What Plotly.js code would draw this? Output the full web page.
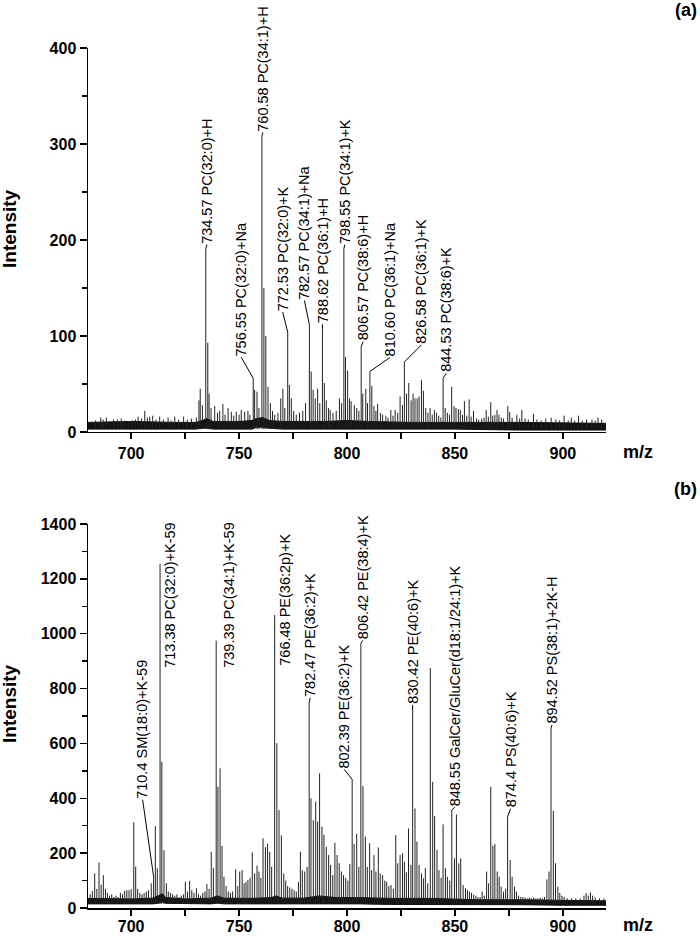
<!DOCTYPE html>
<html>
<head>
<meta charset="utf-8">
<script src="https://cdn.plot.ly/plotly-3.0.1.min.js"></script>
<style>html,body{margin:0;padding:0;background:#fff;}#chart{width:700px;height:936px;}</style>
</head>
<body>
<div id="chart"></div>
<script>
// ---------- Panel (a) peaks: m/z and intensity ----------
const mzA = [683.5,685.9,687.0,688.5,690.2,691.8,693.6,695.4,697.0,699.0,700.5,702.0,703.2,704.8,706.3,707.5,708.6,710.0,711.5,713.2,715.0,717.1,718.5,720.2,722.0,724.3,726.0,727.9,730.2,731.4,732.0,733.0,734.57,735.5,736.1,737.0,738.7,740.0,741.0,742.5,743.5,744.9,746.4,747.5,748.7,750.0,751.0,752.6,754.1,755.0,756.55,757.2,758.3,759.2,760.58,761.5,762.4,763.4,764.5,765.5,766.5,768.0,769.3,770.3,771.2,772.53,773.3,774.2,775.3,776.5,778.0,779.5,780.8,782.57,783.4,784.3,785.3,786.4,787.4,788.62,789.5,790.4,791.4,792.2,793.5,795.0,796.5,797.5,798.55,799.3,800.3,801.2,801.9,803.4,804.5,805.5,806.57,807.3,808.7,809.5,810.60,811.5,812.5,813.4,814.2,815.5,816.5,818.0,819.0,820.3,821.3,822.3,823.5,824.6,825.7,826.58,827.6,828.6,829.7,830.6,831.5,832.5,833.4,834.5,835.4,836.5,837.5,838.5,839.5,840.5,841.5,842.5,843.5,844.53,845.5,846.5,847.5,848.5,849.6,850.5,851.6,852.5,853.5,854.4,855.5,856.6,857.5,858.6,860.0,861.0,862.4,863.5,864.5,865.5,866.6,867.5,868.5,869.5,870.4,871.5,872.5,874.5,875.4,876.5,878.7,880.0,881.0,882.5,884.0,886.4,888.0,890.0,892.1,894.6,896.8,898.5,900.6,902.5,903.9,905.5,907.3,909.0,911.0,913.5,915.0,916.3,918.0];
const intA = [12,15,13,15,11,13,13,14,12,11,12,13,16,14,22,15,16,17,13,16,13,15,12,16,13,16,13,14,15,33,45,28,190,93,40,25,27,20,22,29,18,25,21,17,21,18,23,21,22,18,56,44,42,25,308,150,100,47,30,22,18,20,35,45,25,104,49,35,22,18,20,22,30,112,63,44,35,45,30,108,51,33,25,23,20,22,35,30,191,78,64,35,32,28,25,22,89,40,45,30,63,48,27,22,29,20,18,17,15,23,17,23,20,37,28,73,40,51,33,40,35,35,37,54,43,25,20,25,18,23,20,17,15,56,25,20,18,47,27,25,24,23,18,32,17,34,16,22,14,13,14,15,23,16,31,17,18,23,18,15,14,27,21,15,18,14,23,14,13,19,13,12,14,15,13,12,17,12,15,12,17,12,13,13,12,15,13];
// noise band of panel (a)
const bandA_mz = [680,700,720,730,733,735,738,750,756,758,761,764,770,780,790,800,810,830,850,880,920];
const bandA_hi = [10,11,10,10,12,14,11,11,12,14,15,12,11,11,11,12,11,10,10,10,9];
const bandA_lo = [3,3,3,3,4,4,3,3,3,5,5,4,3,3,3,3,3,3,3,2,2];
// labelled peaks of panel (a)
const labA_mz = [734.57,756.55,760.58,772.53,782.57,788.62,798.55,806.57,810.60,826.58,844.53];
const labA_text = ["734.57 PC(32:0)+H","756.55 PC(32:0)+Na","760.58 PC(34:1)+H","772.53 PC(32:0)+K","782.57 PC(34:1)+Na","788.62 PC(36:1)+H","798.55 PC(34:1)+K","806.57 PC(38:6)+H","810.60 PC(36:1)+Na","826.58 PC(36:1)+K","844.53 PC(38:6)+K"];

// ---------- Panel (b) peaks ----------
const mzB = [681.0,682.0,683.1,684.1,685.1,686.1,687.1,688.1,689.0,690.0,691.0,692.0,693.0,694.0,695.0,696.0,697.0,698.0,699.0,700.0,701.2,702.1,703.0,704.0,705.0,706.0,707.0,708.0,709.3,710.4,711.2,712.1,713.38,714.2,715.2,716.3,717.2,718.2,719.2,720.2,721.2,722.2,723.2,724.2,725.1,726.1,727.1,728.1,729.1,730.2,731.2,732.2,733.2,734.2,735.1,736.1,737.1,738.1,739.39,740.2,741.2,742.1,743.0,744.0,745.0,746.0,747.0,748.4,749.4,750.3,751.4,752.3,753.2,754.1,755.1,756.1,757.2,758.3,759.2,760.1,761.1,762.2,763.2,764.2,765.1,766.48,767.5,768.5,769.6,770.7,771.6,772.5,773.5,774.5,775.5,776.5,777.5,778.4,779.3,780.4,781.5,782.47,783.3,784.4,785.5,786.4,787.3,788.4,789.3,790.4,791.5,792.4,793.4,794.4,795.4,796.4,797.4,798.4,799.4,800.4,801.3,802.39,803.3,804.5,805.5,806.42,807.4,808.5,809.4,810.5,811.4,812.5,813.4,814.5,815.4,816.5,817.5,818.4,819.4,820.4,821.5,822.6,823.5,824.6,825.7,826.6,827.5,828.5,829.6,830.42,831.5,832.4,833.4,834.5,835.4,836.3,837.4,838.6,839.7,840.6,841.7,842.6,843.6,844.5,845.6,846.5,847.6,848.55,849.8,850.7,851.8,852.7,853.8,854.9,855.8,856.7,857.7,858.7,859.7,860.7,861.7,862.6,863.6,864.7,865.6,866.6,867.6,868.5,869.6,870.5,871.4,872.5,873.5,874.4,875.6,876.5,877.6,878.5,879.5,880.5,881.5,882.5,883.5,884.5,885.5,886.5,887.5,888.5,889.5,890.5,891.5,892.6,893.6,894.52,895.6,896.6,897.7,898.6,899.6,900.6,902.0,904.0,906.0,908.0,909.8,910.8,911.8,912.8,913.8,915.0,917.0,919.0];
const intB = [50,62,126,70,166,85,120,70,55,45,50,40,45,40,55,50,62,65,65,68,312,151,70,55,50,55,60,65,90,114,299,145,1255,533,211,90,60,55,50,45,50,40,45,50,96,60,99,65,55,72,50,45,55,60,87,70,205,145,975,442,509,226,114,80,60,55,60,141,80,133,138,90,95,102,110,203,126,154,133,110,254,222,234,205,150,1068,601,357,265,126,100,80,75,70,65,60,95,205,138,133,150,748,400,320,388,315,491,297,267,223,193,157,120,238,193,163,133,120,110,100,160,469,233,271,150,965,445,260,150,236,138,193,133,221,126,120,100,96,80,84,70,266,163,193,199,169,130,290,157,722,363,242,157,126,108,145,90,875,460,335,212,138,110,305,145,114,100,357,181,341,163,181,84,72,65,60,55,48,45,40,40,60,45,133,90,442,227,233,133,114,78,60,70,333,175,114,78,60,45,40,40,38,35,38,35,38,35,35,38,35,40,104,133,656,355,163,78,55,45,40,35,35,35,35,45,54,45,57,45,38,35,35];
// noise band of panel (b)
const bandB_mz = [680,700,710,713,714.5,716,725,737,740,743,755,765,767,770,780,787,795,806,820,840,860,880,900,920];
const bandB_hi = [35,33,36,48,52,38,33,36,44,36,35,38,44,36,36,44,38,38,35,35,30,30,28,26];
const bandB_lo = [15,15,15,18,22,17,15,15,18,15,15,15,17,15,15,17,15,15,13,13,12,12,10,10];
// labelled peaks of panel (b)
const labB_mz = [710.4,713.38,739.39,766.48,782.47,802.39,806.42,830.42,848.55,874.4,894.52];
const labB_text = ["710.4 SM(18:0)+K-59","713.38 PC(32:0)+K-59","739.39 PC(34:1)+K-59","766.48 PE(36:2p)+K","782.47 PE(36:2)+K","802.39 PE(36:2)+K","806.42 PE(38:4)+K","830.42 PE(40:6)+K","848.55 GalCer/GluCer(d18:1/24:1)+K","874.4 PS(40:6)+K","894.52 PS(38:1)+2K-H"];

// ---------- label placement: pixel offset [dx, dy] of the label's bottom from the peak top (dy<0 = above) ----------
const labA_offset = [[1,-5],[-12,-21],[1,-4],[-5,-20],[-5,-24],[0,-4],[1,-4],[2,-5],[20,-14],[17,-17],[3,-5]];
const labB_offset = [[-11,-77],[10,105],[12,28],[10,52],[1,-5],[-8,-10],[2,-3],[0,-5],[3,-3],[3,-8],[1,-3]];

const FONT = "Liberation Sans, Arial, Helvetica, sans-serif";

function sticks(mz, inten, base) {
  const x = [], y = [];
  mz.forEach((m, i) => { x.push(m, m, null); y.push(base, inten[i], null); });
  return {x, y};
}
const sA = sticks(mzA, intA, 3);
const sB = sticks(mzB, intB, 15);

const traces = [
  {x: bandA_mz, y: bandA_lo, xaxis: 'x', yaxis: 'y', mode: 'lines', line: {color: '#111', width: 1}, hoverinfo: 'skip'},
  {x: bandA_mz, y: bandA_hi, xaxis: 'x', yaxis: 'y', mode: 'lines', line: {color: '#111', width: 1}, fill: 'tonexty', fillcolor: '#111', hoverinfo: 'skip'},
  {x: sA.x, y: sA.y, xaxis: 'x', yaxis: 'y', mode: 'lines', line: {color: '#222', width: 1}, connectgaps: false},
  {x: bandB_mz, y: bandB_lo, xaxis: 'x2', yaxis: 'y2', mode: 'lines', line: {color: '#111', width: 1}, hoverinfo: 'skip'},
  {x: bandB_mz, y: bandB_hi, xaxis: 'x2', yaxis: 'y2', mode: 'lines', line: {color: '#111', width: 1}, fill: 'tonexty', fillcolor: '#111', hoverinfo: 'skip'},
  {x: sB.x, y: sB.y, xaxis: 'x2', yaxis: 'y2', mode: 'lines', line: {color: '#222', width: 1}, connectgaps: false}
];

const labelFont = {family: FONT, size: 14.5, color: '#000'};
const shapes = [];
function buildLabels(labMz, labText, offsets, mz, inten, xref, yref) {
  return labMz.map((m, i) => {
    const peak = inten[mz.indexOf(m)];
    const [dx, dy] = offsets[i];
    if (dy < 0) {
      shapes.push({type: 'line', xref, yref, xsizemode: 'pixel', ysizemode: 'pixel',
                   xanchor: m, yanchor: peak, x0: 0, y0: 0, x1: dx, y1: -dy,
                   line: {color: '#000', width: 1}});
    }
    return {x: m, y: peak, xref, yref, text: labText[i], textangle: -90, showarrow: false,
            xanchor: 'center', yanchor: 'bottom', xshift: dx, yshift: -dy, borderpad: 0, font: labelFont};
  });
}

const boldFont = (s) => ({family: FONT, size: s, color: '#000', weight: 'bold'});
const annotations = [
  ...buildLabels(labA_mz, labA_text, labA_offset, mzA, intA, 'x', 'y'),
  ...buildLabels(labB_mz, labB_text, labB_offset, mzB, intB, 'x2', 'y2'),
  {xref: 'paper', yref: 'paper', x: -0.1506, y: 0.7907, text: 'Intensity', textangle: -90, showarrow: false, xanchor: 'center', yanchor: 'middle', font: boldFont(19)},
  {xref: 'paper', yref: 'paper', x: -0.1506, y: 0.2384, text: 'Intensity', textangle: -90, showarrow: false, xanchor: 'center', yanchor: 'middle', font: boldFont(19)},
  {xref: 'paper', yref: 'paper', x: 1.0618, y: 0.5302, text: 'm/z', showarrow: false, xanchor: 'center', yanchor: 'middle', font: boldFont(18)},
  {xref: 'paper', yref: 'paper', x: 1.0618, y: -0.0198, text: 'm/z', showarrow: false, xanchor: 'center', yanchor: 'middle', font: boldFont(18)},
  {xref: 'paper', yref: 'paper', x: 1.1544, y: 1.0442, text: '(a)', showarrow: false, xanchor: 'center', yanchor: 'middle', font: boldFont(18)},
  {xref: 'paper', yref: 'paper', x: 1.1544, y: 0.4872, text: '(b)', showarrow: false, xanchor: 'center', yanchor: 'middle', font: boldFont(18)}
];

const xAxisBase = {
  range: [680, 920], dtick: 50, tick0: 700, showline: true, linecolor: '#000', linewidth: 1.5,
  ticks: 'outside', ticklen: 6, tickwidth: 1.5, tickcolor: '#000', showgrid: false, zeroline: false,
  tickfont: boldFont(16), minor: {dtick: 25, tick0: 700, ticks: 'outside', ticklen: 6, tickwidth: 1.5, tickcolor: '#000', showgrid: false},
  fixedrange: true
};
const yAxisBase = {
  showline: true, linecolor: '#000', linewidth: 1.5, ticks: 'outside', ticklen: 7, tickwidth: 1.5, tickcolor: '#000',
  showgrid: false, zeroline: false, tickfont: boldFont(16), fixedrange: true
};

const layout = {
  width: 700, height: 936,
  margin: {l: 88, r: 94, t: 48, b: 28},
  paper_bgcolor: '#fff', plot_bgcolor: '#fff',
  showlegend: false,
  xaxis: Object.assign({}, xAxisBase, {anchor: 'y', domain: [0, 1]}),
  yaxis: Object.assign({}, yAxisBase, {anchor: 'x', domain: [0.5535, 1], range: [0, 400], dtick: 100,
          minor: {dtick: 50, ticks: 'outside', ticklen: 5, tickwidth: 1.5, tickcolor: '#000', showgrid: false}}),
  xaxis2: Object.assign({}, xAxisBase, {anchor: 'y2', domain: [0, 1], ticklabelstandoff: -3}),
  yaxis2: Object.assign({}, yAxisBase, {anchor: 'x2', domain: [0, 0.4465], range: [0, 1400], dtick: 200,
          minor: {dtick: 100, ticks: 'outside', ticklen: 5, tickwidth: 1.5, tickcolor: '#000', showgrid: false}}),
  annotations: annotations,
  shapes: shapes
};

Plotly.newPlot('chart', traces, layout, {displayModeBar: false, staticPlot: true});
</script>
</body>
</html>
